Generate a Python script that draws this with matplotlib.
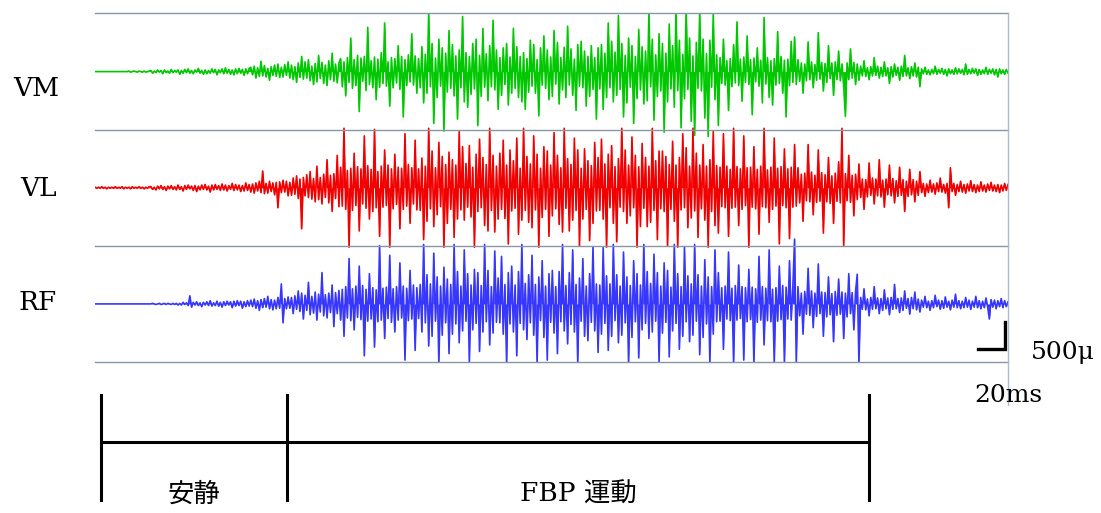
import numpy as np
import matplotlib
matplotlib.use("Agg")
import matplotlib.pyplot as plt
from matplotlib.lines import Line2D

# EMG traces, read off the picture as spike-by-spike estimates
# amplitudes in units of 10 uV, evenly sampled over the record
vm = [0, 0, 0, 0, 0, 0, 0, 0, 0, 0, 0, 0, 0, 0, 0, 0, 0, 0, 0, 0,
      1, -1, 0, 1, 0, -1, 1, 0, -1, 1, -1, 0, 1,
      2, -3, 1, -2, 3, -1, 2, -4, 3, -2, 1, -3, 4, -2, 2, -1, 3, -5, 2, -3,
      4, -2, 5, -3, 2, -4, 3, -1, 6, -3, 2, -5, 3, -4, 2, -3, 5, -2, 4, -6,
      3, -2, 5, -4, 7, -3, 4, -5, 3, -6, 5, -4, 6, -3, 4, -7, 5, -4, 6,
      8, -6, 10, -12, 7, -9, 19, -8, 11, -10, 6, -16, 9, -7, 12, -9, 14, -11,
      8, -10, 13, -7, 18, -12,
      12, -15, 9, -20, 16, -11, 28, -14, 18, -12, 22, -17, 10, -24, 15, -19,
      30, -13, 17, -22, 12, -26, 20, -15, 34, -18, 14, -21, 16,
      24, -28, 18, -45, 26, -20, 62, -31, 22, -26, 30, -74, 25, -18, 28, -35,
      82, -24, 20, -30, 27, -52, 23, -29, 35, -22, 90, -27, 18, -64, 26, -30,
      24, -21, 48, -33, 28, -84, 22, -26, 31, -19, 70, -25, 29, -40, 24,
      -30, 46, -58, 32, -40, 110, -28, 52, -96, 25, -48, 60, -27, 44, -110, 34,
      -38, 76, -31, 50, -45, 29, -88, 40, -30, 102, -56, 35, -66, 28, -42, 52,
      -32, 60, -100, 30, -46, 80, -29, 33, -54, 48, -28, 95, -34, 40, -70,
      26, -44, 44, -24, 52, -62, 27, -40, 80, -31, 46, -48, 28, -56, 35, -70,
      24, -38, 58, -27, 50, -40, 22, -82, 44, -25, 66, -31, 40, -52, 27, -46,
      76, -23, 54, -60, 26, -34, 45, -48, 84, -25, 42, -44, 23, -72, 50, -27,
      56, -30, 38, -64, 28, -46, 48, -33, 26, -88, 44,
      -32, 50, -70, 34, -48, 90, -30, 56, -56, 36, -44, 104, -33, 52, -84, 30,
      -58, 62, -29, 48, -96, 28, -50, 78, -34, 46, -60, 38, -54, 110, -28, 60,
      -90, 31, -46, 70, -36, 52, -112, 34, -56, 88, -32, 48, -66, 115, -35, 58,
      -104, 32, -50, 120, -33, 62, -92, 29, -118, 54, -31, 112, -36, 60, -86, 33,
      -120, 58, -29, 108, -52, 31, -100,
      26, -22, 60, -25, 20, -72, 24, -28, 50, -21, 92, -26, 23, -55, 27, -20,
      66, -24, 22, -80, 25, -19, 44, -27, 21, -58, 100, -23, 26, -48, 20, -62,
      24, -25, 74, -22, 28, -40, 21, -84, 23, -26, 56, -20, 64, -24, 22,
      -18, 16, -40, 14, -17, 55, -15, 18, -30, 13, -16, 72, -14, 17, -36, 15,
      -20, 48, -13, 16, -44, 18, -15, 38, -17, 14, -28, -83, 16, -15, 42, -12,
      17, -24, 14, -16,
      10, -8, 20, -9, 7, -15, 9, -8, 26, -7, 10, -12, 8, -9, 18, -8, 7, -22,
      9, -10, 14, -7, 8, -16, 10, -9, 30, -8, 7, -13, 9, -8, 16, -10, 8, -28,
      5, -4, 8, -5, 3, -6, 4, -4, 10, -5, 4, -3, 6, -5, 4, -8, 5, -4, 3, -5,
      7, -4, 5, -3, 4, -6, 14, -5, 4, -4, 6, -3, 5, -7, 4, -5, 3, -4, 8, -5,
      4, -3, 5, -6, 4, -10, 5, -4, 3, -5, 4, -3]

vl = [1, -1, 1, -1, 2, -1, 1, -2, 1, -1, 1, -1, 2, -1, 1, -1, 2, -2, 1, -1,
      1, -2, 2, -1, 1, -1, 2, -1, 1, -2, 1, -1, 2,
      2, -3, 1, -4, 3, -2, 4, -3, 2, -5, 3, -2, 4, -3, 2, -4, 5, -3, 2, -6,
      4, -3, 5, -2, 3, -5, 4, -7, 3, -4, 5, -3, 6, -4, 3, -8, 5, -4, 6, -3,
      4, -5, 7, -4, 5, -6, 4, -3, 8, -5, 6, -4, 5, -7, 4, -6, 9, -5, 6,
      -8, 7, -10, 9, -6, 12, -9, 31, -11, 8, -10, 12, -7, 9, -13, 10, -37, 11,
      -9, 14, -8, 12, -15, 10,
      -14, 18, -12, 22, -20, 16, -76, 19, -15, 24, -18, 30, -21, 17, -26, 40,
      -22, 19, -30, 25, -18, 52, -28, 23, -44, 26, -20, 60, -35,
      38, -34, 110, -40, 32, -110, 36, -42, 64, -33, 39, -80, 35, -30, 96, -38,
      41, -58, 34, -44, 108, -37, 30, -90, 40, -36, 70, -33, 42, -110, 35, -39,
      62, -31, 38, -76, 36, -40, 100, -34, 43, -66, 37, -30, 88, -41, 35,
      -42, 55, -96, 40, -62, 110, -39, 68, -72, 37, -50, 84, -35, 58, -110, 43,
      -66, 66, -40, 52, -92, 42, -58, 104, -41, 76, -60, 45, -36, 78, -54, 38,
      -110, 62, -44, 90, -37, 56, -70, 43, -80, 110, -42, 60, -82, 40, -58,
      64, -40, 88, -57, 42, -104, 70, -43, 50, -38, 92, -86, 36, -60, 110, -42,
      58, -64, 44, -74, 96, -41, 62, -110, 36, -55, 76, -40, 68, -90, 42, -52,
      102, -39, 60, -68, 37, -82, 110, -38, 54, -80, 43, -60, 92, -42, 70, -108,
      36, -58, 72, -40, 50, -98, 41, -66, 84, -43, 56,
      -42, 90, -58, 44, -110, 62, -37, 78, -66, 39, -100, 54, -36, 110, -44, 70,
      -66, 42, -52, 94, -37, 60, -110, 39, -72, 82, -38, 56, -72, 40, -64, 110,
      -42, 50, -96, 68, -39, 68, -44, 58, -108, 43, -40, 86, -62, 42, -110, 56,
      -41, 100, -37, 74, -74, 40, -56, 110, -43, 64, -92, 42, -39, 80, -60, 40,
      -110, 52, -44, 104, -70, 41, -84,
      38, -35, 100, -37, 40, -90, 34, -38, 110, -36, 39, -70, 35, -40, 96, -33,
      37, -110, 38, -36, 76, -39, 34, -86, 40, -35, 110, -37, 33, -64, 38, -40,
      92, -34, 36, -104, 39, -33, 72, -37, 35, -94, 38, -36, 80, -34, 37,
      -28, 25, -62, 27, -24, 80, -26, 29, -50, 23, -27, 70, -25, 28, -84, 24,
      -26, 56, -29, 22, -66, 27, -25, 48, -28, 110, -108, 26, -24, 60, -27, 23,
      -52, 25, -22, 44,
      -18, 16, -40, 15, -17, 46, -14, 18, -30, 16, -15, 52, -17, 14, -36, 16,
      -13, 42, -15, 17, -28, 13, -16, 38, -14, 15, -44, 12, -16, 34, -13, 15,
      -26, 12, -14, 30,
      -9, 8, -16, 7, -9, 14, -8, 7, -12, 9, -7, 18, -8, 6, -10, 8, -37, 37,
      -7, 8, -14, 6, -7, 12, -8, 6, -10, 7, -6, 13, -7, 6, -9, 5, -7, 11,
      -6, 5, -8, 7, -5, 10, -6, 5, -7, 6, -9, 5, -6, 8, -5, 6]

rf = [0, 0, 0, 0, 0, 0, 0, 0, 0, 0, 0, 0, 0, 0, 0, 0, 0, 0, 0, 0,
      0, 0, 0, 0, 0, 0, 0, 0, 0, 0, 0, 0, 0,
      0, 1, 0, -1, 0, 1, -1, 0, 1, -1, 1, 0, -1, 1, -1, 1, -2, 1,
      -2, 3, -1, 2, -3, 15, -6, 3, -2, 4, -3, 2, -5, 3, -2, 4, -3, 6, -4, 2,
      -3, 5, -4, 3, -6, 4, -3, 5, -2, 4, -7, 5, -4, 6, -3, 5, -8, 4, -5, 6, -4,
      7, -5, 9, -8, 6, -12, 8, -7, 10, -6, 14, -9, 8, -11, 7, -9, 12, -8,
      37, -35, 10, -9, 13, -8,
      12, -18, 15, -10, 24, -14, 20, -28, 16, -12, 40, -20, 14, -17, 22, -30,
      18, -15, 58, -22, 17, -26, 20, -16, 35, -42, 21, -18, 25,
      -30, 27, -60, 32, -26, 84, -31, 28, -48, 33, -25, 70, -29, 34, -96, 27,
      -32, 56, -28, 30, -80, 26, -33, 108, -30, 29, -64, 31, -27, 90, -34, 28,
      -52, 32, -30, 76, -26, 33, -104, 29, -31, 62, -28, 35, -86, 30, -27,
      36, -52, 110, -35, 54, -78, 37, -60, 94, -32, 50, -110, 33, -58, 68, -35,
      46, -92, 36, -56, 110, -37, 60, -72, 33, -50, 100, -32, 56, -110, 35, -48,
      64, -36, 58, -88, 34, -52, 110, -33, 62, -76, 32, -54, 98, -34, 48,
      -35, 88, -56, 36, -110, 58, -37, 70, -52, 35, -96, 60, -36, 110, -48, 38,
      -66, 54, -35, 90, -58, 36, -110, 50, -31, 80, -62, 33, -104, 56, -34, 62,
      -54, 32, -92, 60, -33, 110, -50, 34, -74, 58, -38, 100, -52, 36, -110, 48,
      -32, 84, -60, 33, -68, 56, -34, 106, -50, 37, -90,
      35, -56, 104, -36, 52, -86, 37, -60, 110, -31, 54, -72, 33, -58, 96, -35,
      50, -110, 34, -62, 80, -33, 56, -100, 35, -48, 110, -36, 60, -64, 38, -52,
      92, -32, 58, -110, 33, -54, 76, -34, 62, -98, 31, -50, 110, -36, 56, -84,
      32, -60, 106, -33, 52, -70, 37, -58, 110, -32, 54, -94, 33, -62, 82, -37,
      50, -110, 32, -56, 100, -33, 58,
      -32, 30, -84, 33, -28, 96, -31, 29, -110, 34, -30, 72, -27, 32, -104, 30,
      -33, 64, -29, 31, -110, 28, -34, 88, -30, 32, -76, 29, -31, 100, -33, 27,
      -110, 30, -32, 70, -29, 34, -110, 31, -28, 80, -30, 33, 120, -110, 32,
      -22, 20, -56, 23, -19, 66, -21, 24, -44, 20, -23, 74, -18, 22, -60, 21,
      -24, 50, -20, 19, -70, 23, -21, 46, -19, 22, -64, 20, -24, 56, -18, 21,
      -48, 23, 55, -110,
      12, -10, 28, -11, 9, -22, 12, -10, 32, -9, 11, -18, 10, -12, 26, -9,
      11, -20, 12, -10, 36, -9, 10, -16, 11, -12, 24, -8, 10, -19, 12, -9,
      22, -11, 9, -15,
      7, -6, 14, -7, 5, -12, 6, -7, 16, -5, 7, -10, 6, -8, 13, -6, 5, -11,
      7, -6, 18, -7, 6, -9, 5, -7, 12, -6, 7, -10, 5, -6, 14, -7, 6, -9,
      5, -7, 11, -6, -28, 8, -6, 7, -9, 6, -5, 10, -7, 6, -5, 4]

channels = ["VM", "VL", "RF"]
traces = [vm, vl, rf]
colors = ["#00c800", "#f20000", "#3636ff"]

duration_ms = 676           # full record length
phase_bounds = [4.4, 142.2, 573.1]   # ms
phase_labels = ["安静", "FBP 運動"]
scale_ms = 20
scale_uv = 500

W, H = 1101, 513
fig = plt.figure(figsize=(W / 100, H / 100), dpi=100)

# signal panel
x0, x1 = 95, 1008
y_top, y_bot = 13.5, 362
ax = fig.add_axes([x0 / W, 1 - y_bot / H, (x1 - x0) / W, (y_bot - y_top) / H])
spacing = 2150
ax.set_xlim(0, duration_ms)
ax.set_ylim(-2 * spacing - 1075, 1075)
ax.axis("off")

for k, (tr, c) in enumerate(zip(traces, colors)):
    base = -k * spacing
    t = np.linspace(0, duration_ms, len(tr))
    y = np.array(tr) * 10.0 + base
    ax.fill_between(t, base, y, color=c, lw=0, interpolate=True)
    ax.plot(t, y, color=c, lw=1.2)

for yy in [1075, -1075, -3225, -5375]:
    ax.axhline(yy, color="#8797a8", lw=1.0, clip_on=False)

# scale bar
sb_x = duration_ms - 2.5
sb_y = -5140
ax.plot([sb_x - scale_ms, sb_x, sb_x], [sb_y, sb_y, sb_y + scale_uv],
        color="black", lw=2.4, solid_joinstyle="miter", clip_on=False)

# right border line running down past the panel
fig.add_artist(Line2D([x1 / W, x1 / W], [1 - 13 / H, 1 - 405 / H],
                      color="#a9bccd", lw=1.0))

serif = "DejaVu Serif"
label_pos = [(36, 88), (39, 188), (38, 302)]
for name, (lx, ly) in zip(channels, label_pos):
    fig.text(lx / W, 1 - ly / H, name, ha="center", va="center",
             fontsize=19, family=serif)

fig.text(1031 / W, 1 - 352 / H, "500μ", ha="left", va="center",
         fontsize=18, family=serif)
fig.text(1008 / W, 1 - 396 / H, "20ms", ha="center", va="center",
         fontsize=18, family=serif)

# phase timeline
ax2 = fig.add_axes([x0 / W, 0, (x1 - x0) / W, 128 / H])
ax2.set_xlim(0, duration_ms)
ax2.set_ylim(128, 0)
ax2.axis("off")
ax2.plot([phase_bounds[0], phase_bounds[-1]], [57, 57], color="black", lw=2.2)
for b in phase_bounds:
    ax2.plot([b, b], [10, 115], color="black", lw=2.2, clip_on=False)
for i, lab in enumerate(phase_labels):
    mid = (phase_bounds[i] + phase_bounds[i + 1]) / 2
    ax2.text(mid, 109, lab, ha="center", va="center", fontsize=19,
             family=[serif, "Noto Sans CJK JP"])

fig.savefig("out.png", dpi=100, facecolor="white")
